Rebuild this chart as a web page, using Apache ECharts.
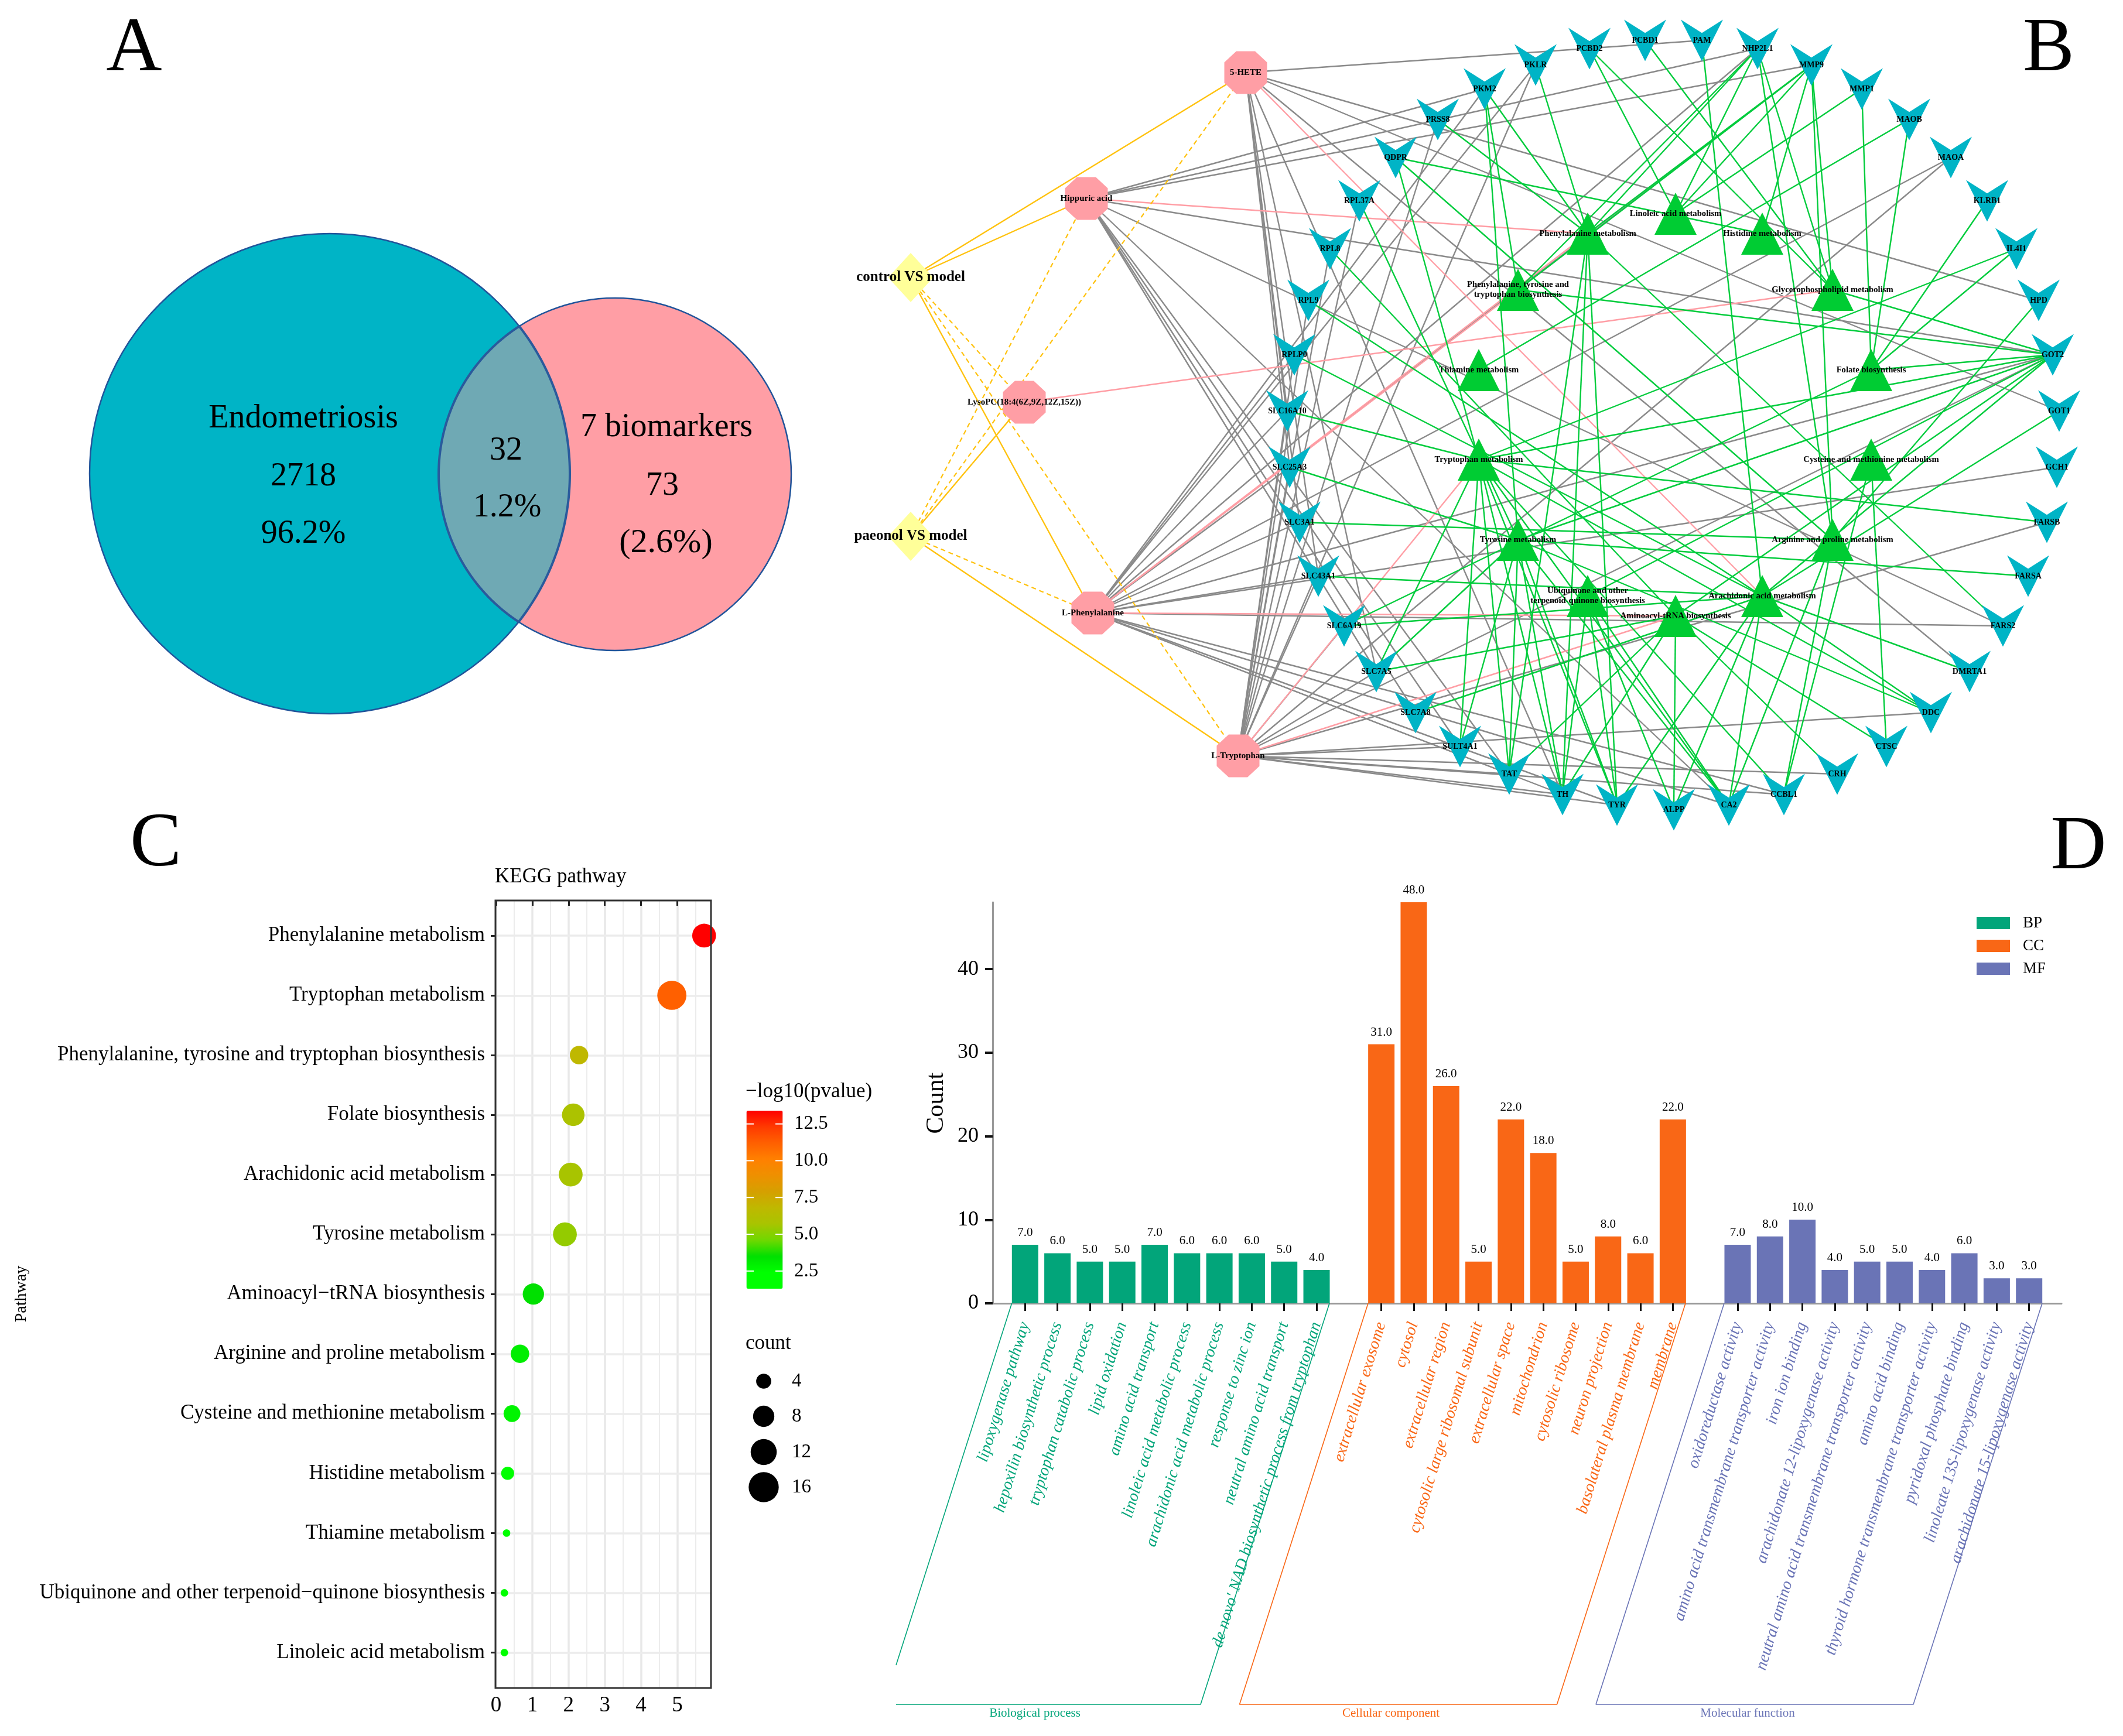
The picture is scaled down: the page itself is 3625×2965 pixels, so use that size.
<!DOCTYPE html>
<html><head><meta charset="utf-8">
<style>html,body{margin:0;padding:0;background:#fff}#c{width:3625px;height:2965px}</style>
<script src="https://cdn.jsdelivr.net/npm/echarts@6/dist/echarts.min.js"></script>
</head><body><div id="c"></div>
<script>
const SERIF='"Liberation Serif","Times New Roman",serif';
/* ---------- A: Venn ---------- */
const vennX=[563,1050], vennY=[809,810], vennR=[410,301];
/* ---------- B: network ---------- */
const groupNames=['control VS model','paeonol VS model'];
const groupX=[1555,1555], groupY=[474,916];
const metaboliteNames=['5-HETE','Hippuric acid','LysoPC(18:4(6Z,9Z,12Z,15Z))','L-Phenylalanine','L-Tryptophan'];
const metaboliteX=[2127,1855,1749,1866,2114], metaboliteY=[124,339,687,1047,1291];
const geneNames=['PKM2','PRSS8','QDPR','RPL37A','RPL8','RPL9','RPLP0','SLC16A10','SLC25A3','SLC3A1','SLC43A1','SLC6A19','SLC7A5','SLC7A8','SULT4A1','TAT','TH','TYR','ALPP','CA2','CCBL1','CRH','CTSC','DDC','DMRTA1','FARS2','FARSA','FARSB','GCH1','GOT1','GOT2','HPD','IL4I1','KLRB1','MAOA','MAOB','MMP1','MMP9','NHP2L1','PAM','PCBD1','PCBD2','PKLR'];
const geneX=[2535,2455,2383,2321,2271,2234,2210,2198,2202,2219,2251,2295,2350,2417,2493,2577,2668,2761,2858,2952,3046,3137,3221,3297,3363,3420,3463,3495,3512,3516,3505,3481,3443,3393,3331,3260,3179,3093,3001,2906,2809,2714,2622];
const geneY=[152,204,269,343,425,513,606,702,798,892,984,1069,1147,1217,1275,1322,1357,1375,1383,1375,1357,1322,1275,1217,1147,1069,984,892,798,702,606,513,425,343,269,204,152,111,83,69,69,83,111];
const pathwayCodes=['Phe','Lin','His','PTT','Gly','Thi','Fol','Trp','Cys','Tyr','Arg','Ubi','Ara','Ami'];
const pathwayLabels=['Phenylalanine metabolism','Linoleic acid metabolism','Histidine metabolism','Phenylalanine, tyrosine and\ntryptophan biosynthesis','Glycerophospholipid metabolism','Thiamine metabolism','Folate biosynthesis','Tryptophan metabolism','Cysteine and methionine metabolism','Tyrosine metabolism','Arginine and proline metabolism','Ubiquinone and other\nterpenoid-quinone biosynthesis','Arachidonic acid metabolism','Aminoacyl-tRNA biosynthesis'];
const pathwayX=[2711,2861,3009,2592,3129,2525,3195,2525,3195,2592,3129,2711,3009,2861];
const pathwayY=[399,365,399,495,495,632,632,785,785,922,922,1018,1018,1052];
const solidGroupLinks={'control VS model':['5-HETE','Hippuric acid','L-Phenylalanine'],'paeonol VS model':['LysoPC(18:4(6Z,9Z,12Z,15Z))','L-Tryptophan']};
const dashedGroupLinks={'control VS model':['LysoPC(18:4(6Z,9Z,12Z,15Z))','L-Tryptophan'],'paeonol VS model':['5-HETE','Hippuric acid','L-Phenylalanine']};
const metaboliteGeneLinks={
 '5-HETE':['PAM','HPD','GOT1','DMRTA1','SLC16A10','SLC25A3','SLC3A1','SLC43A1','SLC7A5','TH'],
 'Hippuric acid':['PKM2','NHP2L1','MMP9','GOT2','FARS2','SLC7A5','SLC7A8','SULT4A1','TAT','CA2'],
 'L-Phenylalanine':['SLC16A10','SLC25A3','SLC3A1','SLC43A1','RPLP0','PKLR','PKM2','NHP2L1','MMP9','MAOA','GCH1','FARS2','GOT2','TAT','TH','TYR','CCBL1','CA2'],
 'L-Tryptophan':['RPL37A','RPL8','RPL9','RPLP0','SLC16A10','SLC25A3','SLC3A1','SLC43A1','PRSS8','PKLR','MAOA','GOT2','FARSB','DDC','CRH','SULT4A1','TAT','TH','TYR','CCBL1','SLC6A19','SLC7A5']
};
const metabolitePathwayLinks={
 '5-HETE':['Ara'],'Hippuric acid':['Phe'],'LysoPC(18:4(6Z,9Z,12Z,15Z))':['Gly'],
 'L-Phenylalanine':['Phe','PTT','Ami'],'L-Tryptophan':['Trp','Ami']
};
const genePathwayLinks={
 PRSS8:['Phe'],PKM2:['Phe','PTT','Tyr'],PKLR:['Phe'],PCBD2:['Lin','Gly'],PCBD1:['Gly'],PAM:['Ara'],
 NHP2L1:['Phe','PTT','Lin','Gly','Arg'],MMP9:['Phe','Lin','His','Gly','Arg','PTT'],MMP1:['Lin','Fol'],
 MAOB:['Thi','Fol'],KLRB1:['Fol'],IL4I1:['Trp','Fol'],HPD:['Arg'],
 GOT2:['PTT','Gly','Trp','Tyr','Ubi','Ara','Ami','Fol'],GOT1:['Ara'],FARSB:['Trp'],FARSA:['Tyr'],FARS2:['Phe'],
 DMRTA1:['Ara'],DDC:['Ara','Tyr','Trp'],CTSC:['Ami','Cys'],CRH:['Ami'],CCBL1:['Arg','Cys','Trp'],
 CA2:['Arg','Ara','Ubi','Tyr','Trp'],ALPP:['Ami','Ara','Ubi'],TYR:['Ara','Ubi','Tyr','Trp','Phe'],
 TH:['Tyr','Trp','Ubi','Phe','Ami'],TAT:['Ami','Trp','Tyr','Phe'],SULT4A1:['Trp','Tyr'],
 SLC7A8:['Ara'],SLC7A5:['Trp','Ami','Tyr'],SLC6A19:['Fol','Ara'],SLC43A1:['Ara'],SLC3A1:['Arg'],
 SLC25A3:['Tyr'],SLC16A10:['Trp'],RPLP0:['Ara'],RPL9:['Ara'],RPL8:['Ami'],RPL37A:['Tyr'],QDPR:['His','Trp','Arg']
};
/* ---------- C: KEGG dot plot ---------- */
const keggNames=['Phenylalanine metabolism','Tryptophan metabolism','Phenylalanine, tyrosine and tryptophan biosynthesis','Folate biosynthesis','Arachidonic acid metabolism','Tyrosine metabolism','Aminoacyl\u2212tRNA biosynthesis','Arginine and proline metabolism','Cysteine and methionine metabolism','Histidine metabolism','Thiamine metabolism','Ubiquinone and other terpenoid\u2212quinone biosynthesis','Linoleic acid metabolism'];
const keggX=[5.74,4.85,2.29,2.13,2.06,1.90,1.03,0.66,0.44,0.32,0.29,0.23,0.23];
const keggLogP=[13.4,11.2,6.8,5.9,5.7,5.3,3.5,3.0,2.8,2.2,2.0,1.8,1.6];
const keggCount=[10,15,6,9,10,10,8,6,5,3,1,1,1];
const colorbarTicks=[2.5,5,7.5,10,12.5];
const sizeLegend=[4,8,12,16];
/* ---------- D: GO bars ---------- */
const bpNames=['lipoxygenase pathway','hepoxilin biosynthetic process','tryptophan catabolic process','lipid oxidation','amino acid transport','linoleic acid metabolic process','arachidonic acid metabolic process','response to zinc ion','neutral amino acid transport',"de novo' NAD biosynthetic process from tryptophan"];
const ccNames=['extracellular exosome','cytosol','extracellular region','cytosolic large ribosomal subunit','extracellular space','mitochondrion','cytosolic ribosome','neuron projection','basolateral plasma membrane','membrane'];
const mfNames=['oxidoreductase activity','amino acid transmembrane transporter activity','iron ion binding','arachidonate 12-lipoxygenase activity','neutral amino acid transmembrane transporter activity','amino acid binding','thyroid hormone transmembrane transporter activity','pyridoxal phosphate binding','linoleate 13S-lipoxygenase activity','arachidonate 15-lipoxygenase activity'];
const bpValues=[7,6,5,5,7,6,6,6,5,4];
const ccValues=[31,48,26,5,22,18,5,8,6,22];
const mfValues=[7,8,10,4,5,5,4,6,3,3];
const countTicks=[0,10,20,30,40];

const C_BP='#02A57A',C_CC='#F96716',C_MF='#6A74B6';
const GREY='#8a8a8a',GREEN='#00CC3C',PINK='#FF9EA5',YELLOW='#FFC20E';

/* build network */
const nodes=[];
const lbl=(size,weight)=>({show:true,position:'inside',color:'#000',fontFamily:SERIF,fontSize:size,fontWeight:weight||'bold',lineHeight:17});
groupNames.forEach((n,i)=>nodes.push({name:n,value:[groupX[i],groupY[i]],symbol:'diamond',symbolSize:[77,84],itemStyle:{color:'#FFFF99'},label:lbl(25)}));
const OCT='path://M28,0 L72,0 L100,26 L100,74 L72,100 L28,100 L0,74 L0,26 Z';
metaboliteNames.forEach((n,i)=>nodes.push({name:n,value:[metaboliteX[i],metaboliteY[i]],symbol:OCT,symbolSize:[73,73],itemStyle:{color:'#FF9EA5'},label:lbl(15)}));
const CHEV='path://M0,0 L50,32 L100,0 L50,100 Z';
geneNames.forEach((n,i)=>nodes.push({name:n,value:[geneX[i],geneY[i]],symbol:CHEV,symbolSize:[72,71],itemStyle:{color:'#00B4C6'},label:lbl(14)}));
pathwayCodes.forEach((c,i)=>nodes.push({name:c,value:[pathwayX[i],pathwayY[i]],symbol:'triangle',symbolSize:[72,72],itemStyle:{color:'#00CC33'},label:Object.assign(lbl(14.7),{formatter:pathwayLabels[i]})}));
const links=[];
const addLinks=(map,style)=>Object.keys(map).forEach(s=>map[s].forEach(t=>links.push({source:s,target:t,lineStyle:style})));
addLinks(metaboliteGeneLinks,{color:GREY,width:2.4,type:'solid',opacity:1});
addLinks(metabolitePathwayLinks,{color:PINK,width:2.4,type:'solid',opacity:1});
addLinks(genePathwayLinks,{color:GREEN,width:2.4,type:'solid',opacity:1});
addLinks(solidGroupLinks,{color:YELLOW,width:2.4,type:'solid',opacity:1});
addLinks(dashedGroupLinks,{color:YELLOW,width:2.2,type:[8,6],opacity:1});

/* C helpers */
const ROW_OFFSET=0.587;
const rowOf=i=>i+ROW_OFFSET;
const rowValues=keggNames.map((_,i)=>rowOf(i));
const keggData=keggNames.map((n,i)=>[keggX[i],rowOf(i),keggLogP[i],keggCount[i]]);
const dotSize=c=>12.85*Math.sqrt(c);
const gridRowLines=rowValues.map(v=>({yAxis:v}));
const gridMinorLines=[0.5,1.5,2.5,3.5,4.5,5.5].map(v=>({xAxis:v,lineStyle:{color:'#ececec',width:2}}));

/* D helpers */
const categories=['',...bpNames,'',...ccNames,'',...mfNames,''];
const pad=(vals,start)=>categories.map((_,i)=>(i>=start&&i<start+10)?vals[i-start]:null);
const labelColor={};bpNames.forEach(n=>labelColor[n]=C_BP);ccNames.forEach(n=>labelColor[n]=C_CC);mfNames.forEach(n=>labelColor[n]=C_MF);
const barSeries=(name,color,vals,start)=>({name,type:'bar',xAxisIndex:2,yAxisIndex:2,data:pad(vals,start),barWidth:45,barGap:'-100%',itemStyle:{color},
  label:{show:true,position:'top',distance:10,fontFamily:SERIF,fontSize:21,color:'#000',formatter:p=>p.value==null?'':Number(p.value).toFixed(1)},silent:true});
const bracket=(color,pts)=>({type:'line',xAxisIndex:0,yAxisIndex:0,data:pts,showSymbol:false,symbol:'none',silent:true,lineStyle:{color,width:1.6},z:1,animation:false});

const txt=(text,x,y,size,opt)=>({type:'text',silent:true,z:50,x,y,rotation:(opt&&opt.rot)||0,style:{text,fill:(opt&&opt.color)||'#000',font:((opt&&opt.italic)?'italic ':'')+size+'px '+SERIF,align:(opt&&opt.align)||'center',verticalAlign:'middle'}});

const graphicEls=[
 txt('A',229,85,132),txt('B',3498,85,132),txt('C',266,1443,132),txt('D',3549,1448,132),
 txt('Endometriosis',518,715,56),txt('2718',518,814,56),txt('96.2%',518,912,56),
 txt('32',864,770,56),txt('1.2%',866,867,56),
 txt('7 biomarkers',1138,730,56),txt('73',1131,830,56),txt('(2.6%)',1137,928,58),
 txt('KEGG pathway',845,1498,35,{align:'left'}),
 txt('Pathway',37,2210,28,{rot:Math.PI/2}),
 txt('\u2212log10(pvalue)',1273,1865,35,{align:'left'}),
 txt('count',1273,2295,35,{align:'left'}),
 txt('Count',1599,1884,43,{rot:Math.PI/2}),
 txt('Biological process',1767,2926,21,{color:C_BP}),
 txt('Cellular component',2375,2926,21,{color:C_CC}),
 txt('Molecular function',2984,2926,21,{color:C_MF}),
 {type:'rect',silent:true,z:49,shape:{x:846,y:1538,width:368,height:1345},style:{fill:'none',stroke:'#333',lineWidth:3}}
];
/* colour bar tick labels */
const BAR_TOP=1897,BAR_H=304,LOG_MIN=1.3,LOG_MAX=13.4;
colorbarTicks.forEach(v=>{
  const y=BAR_TOP+BAR_H*(LOG_MAX-v)/(LOG_MAX-LOG_MIN);
  graphicEls.push(txt(v.toFixed(1),1356,y,33,{align:'left'}));
  graphicEls.push({type:'line',silent:true,z:50,shape:{x1:1274,y1:y,x2:1287,y2:y},style:{stroke:'#fff',lineWidth:2}});
  graphicEls.push({type:'line',silent:true,z:50,shape:{x1:1324,y1:y,x2:1337,y2:y},style:{stroke:'#fff',lineWidth:2}});
});
const sizeLegendY=[2359,2419,2480,2540];
sizeLegend.forEach((c,i)=>graphicEls.push(txt(String(c),1352,sizeLegendY[i],33,{align:'left'})));

const option={
 backgroundColor:'#fff',animation:false,
 textStyle:{fontFamily:SERIF},
 graphic:{elements:graphicEls},
 grid:[
  {left:0,top:0,width:3625,height:2965,show:false,containLabel:false},
  {left:847,top:1538,width:367,height:1345,show:false},
  {left:1695,top:1541,width:1825,height:685,show:false}
 ],
 xAxis:[
  {gridIndex:0,type:'value',min:0,max:3625,show:false},
  {gridIndex:1,type:'value',min:0,max:5.93,
   axisLine:{show:false},
   axisTick:{show:true,length:9,lineStyle:{color:'#222',width:3},customValues:[0,1,2,3,4,5]},
   axisLabel:{color:'#000',fontFamily:SERIF,fontSize:37,margin:12,customValues:[0,1,2,3,4,5]},
   splitLine:{show:true,lineStyle:{color:'#e8e8e8',width:3.5}}},
  {gridIndex:2,type:'category',data:categories,boundaryGap:false,
   axisLine:{show:true,lineStyle:{color:'#999',width:3}},
   axisTick:{show:true,length:13,interval:(i,v)=>v!=='',lineStyle:{color:'#111',width:3}},
   axisLabel:{show:true,interval:(i,v)=>v!=='',rotate:73,margin:33,padding:[0,0,22,0],fontFamily:SERIF,fontStyle:'italic',fontSize:28,color:v=>labelColor[v]||'#000'},
   splitLine:{show:false}}
 ],
 yAxis:[
  {gridIndex:0,type:'value',min:0,max:2965,inverse:true,show:false},
  {gridIndex:1,type:'value',min:0,max:13.18,inverse:true,
   axisLine:{show:false},
   axisTick:{show:true,length:9,lineStyle:{color:'#222',width:3},customValues:rowValues},
   axisLabel:{color:'#000',fontFamily:SERIF,fontSize:35,margin:19,customValues:rowValues,formatter:v=>keggNames[Math.round(v-ROW_OFFSET)]||''},
   splitLine:{show:false}},
  {gridIndex:2,type:'value',min:0,max:48,
   axisLine:{show:true,lineStyle:{color:'#999',width:3}},
   axisTick:{show:true,length:13,lineStyle:{color:'#111',width:4},customValues:countTicks},
   axisLabel:{color:'#000',fontFamily:SERIF,fontSize:36,margin:24,customValues:countTicks},
   splitLine:{show:false}}
 ],
 legend:{data:['BP','CC','MF'],orient:'vertical',left:3375,top:1563,padding:0,itemWidth:57,itemHeight:21,itemGap:12,icon:'rect',selectedMode:false,
   textStyle:{fontFamily:SERIF,fontSize:27,color:'#000',padding:[0,0,0,17]}},
 visualMap:[{type:'continuous',seriesIndex:1,dimension:2,min:LOG_MIN,max:LOG_MAX,left:1274.5,top:BAR_TOP,itemWidth:62,itemHeight:BAR_H,padding:0,calculable:false,realtime:false,hoverLink:false,showLabel:false,
   inRange:{color:['#00FF00','#00FF00','#00E000','#70D800','#A8C400','#BFB800','#D5A000','#EE9000','#FF8000','#FF6000','#FF3A00','#FF0000']}}],
 series:[
  {type:'custom',xAxisIndex:0,yAxisIndex:0,silent:true,z:1,clip:false,data:[[0]],
   encode:{x:0},
   renderItem:(p,api)=>{
     const a=api.coord([vennX[0],vennY[0]]),b=api.coord([vennX[1],vennY[1]]);
     const ra=vennR[0],rb=vennR[1];
     const d=Math.hypot(b[0]-a[0],b[1]-a[1]);
     const base=Math.atan2(b[1]-a[1],b[0]-a[0]);
     const angA=Math.acos((d*d+ra*ra-rb*rb)/(2*d*ra));
     const angB=Math.acos((d*d+rb*rb-ra*ra)/(2*d*rb));
     const pts=[];
     for(let i=0;i<=80;i++){const t=-angA+2*angA*i/80;pts.push([a[0]+ra*Math.cos(base+t),a[1]+ra*Math.sin(base+t)]);}
     for(let i=0;i<=80;i++){const t=Math.PI-angB+2*angB*i/80;pts.push([b[0]+rb*Math.cos(base+t),b[1]+rb*Math.sin(base+t)]);}
     return {type:'group',children:[
       {type:'circle',shape:{cx:a[0],cy:a[1],r:ra},style:{fill:'#00B4C6',stroke:'#21549A',lineWidth:2.5}},
       {type:'circle',shape:{cx:b[0],cy:b[1],r:rb},style:{fill:'#FF9EA5',stroke:'#21549A',lineWidth:2.5}},
       {type:'polygon',shape:{points:pts},style:{fill:'#6FA9B4',stroke:'#2A5A9C',lineWidth:4}}
     ]};
   }},
  {type:'scatter',name:'kegg',xAxisIndex:1,yAxisIndex:1,data:keggData,z:5,clip:true,silent:true,itemStyle:{opacity:1},
   symbolSize:v=>dotSize(v[3]),
   markLine:{silent:true,symbol:'none',label:{show:false},z:1,animation:false,
     lineStyle:{color:'#ececec',width:3.5,type:'solid'},
     data:[...gridRowLines,...gridMinorLines]}},
  {type:'scatter',xAxisIndex:0,yAxisIndex:0,silent:true,z:5,itemStyle:{color:'#000',opacity:1},
   data:sizeLegend.map((c,i)=>[1304,sizeLegendY[i],c]),symbolSize:v=>dotSize(v[2])},
  {type:'graph',layout:'none',coordinateSystem:'cartesian2d',xAxisIndex:0,yAxisIndex:0,z:3,silent:true,roam:false,
   data:nodes,links:links,edgeSymbol:['none','none'],lineStyle:{opacity:1},emphasis:{disabled:true}},
  barSeries('BP',C_BP,bpValues,1),
  barSeries('CC',C_CC,ccValues,12),
  barSeries('MF',C_MF,mfValues,23),
  bracket(C_BP,[[1727.6,2226],[1530,2844]]),
  bracket(C_BP,[[1530,2911],[2050,2911],[2270,2226]]),
  bracket(C_CC,[[2336,2226],[2116.5,2911],[2658.5,2911],[2878,2226]]),
  bracket(C_MF,[[2944,2226],[2725,2911],[3267,2911],[3487,2226]])
 ]
};
const chart=echarts.init(document.getElementById('c'),null,{width:3625,height:2965,renderer:'canvas'});
chart.setOption(option);
</script></body></html>
